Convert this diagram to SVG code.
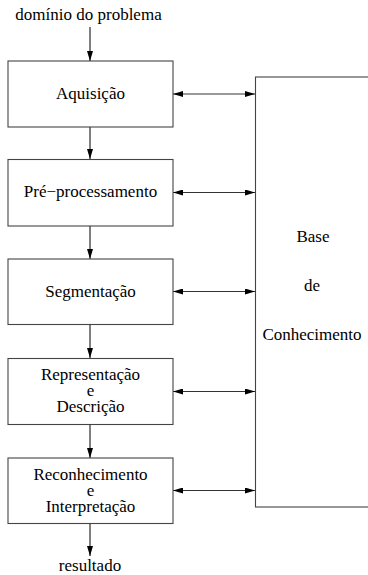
<svg xmlns="http://www.w3.org/2000/svg" width="368" height="575" viewBox="0 0 368 575">
<style>
.box{fill:#fff;stroke:#444;stroke-width:1.1}
text{font-family:'Liberation Serif','Times New Roman',serif;font-size:17px;fill:#000;text-anchor:middle}
.con{stroke:#000;stroke-width:1;fill:none}
.h{stroke:#333;stroke-width:1;fill:none}
</style>
<defs>
<marker id="ah" viewBox="0 0 10 6" refX="10" refY="3" markerWidth="10" markerHeight="6" markerUnits="userSpaceOnUse" orient="auto-start-reverse">
<path d="M0,0 L10,3 L0,6 Z" fill="#000"/>
</marker>
</defs>
<rect width="368" height="575" fill="#fff"/>
<g id="connectors">
<line class="con" x1="90" y1="27" x2="90" y2="61" marker-end="url(#ah)"/>
<line class="con" x1="90" y1="127" x2="90" y2="159" marker-end="url(#ah)"/>
<line class="con" x1="90" y1="226" x2="90" y2="259" marker-end="url(#ah)"/>
<line class="con" x1="90" y1="324" x2="90" y2="358" marker-end="url(#ah)"/>
<line class="con" x1="90" y1="424" x2="90" y2="458" marker-end="url(#ah)"/>
<line class="con" x1="90" y1="523" x2="90" y2="556" marker-end="url(#ah)"/>
<line class="h" x1="173" y1="94" x2="255" y2="94" marker-start="url(#ah)" marker-end="url(#ah)"/>
<line class="h" x1="173" y1="192.5" x2="255" y2="192.5" marker-start="url(#ah)" marker-end="url(#ah)"/>
<line class="h" x1="173" y1="291.5" x2="255" y2="291.5" marker-start="url(#ah)" marker-end="url(#ah)"/>
<line class="h" x1="173" y1="391.5" x2="255" y2="391.5" marker-start="url(#ah)" marker-end="url(#ah)"/>
<line class="h" x1="173" y1="490.5" x2="255" y2="490.5" marker-start="url(#ah)" marker-end="url(#ah)"/>
</g>
<g id="input">
<text x="88.5" y="20">domínio do problema</text>
</g>
<g id="aquisicao">
<rect class="box" x="8" y="61" width="165" height="66"/>
<text x="90.5" y="99">Aquisição</text>
</g>
<g id="preprocessamento">
<rect class="box" x="8" y="159.5" width="165" height="66.5"/>
<text x="90.5" y="197">Pré−processamento</text>
</g>
<g id="segmentacao">
<rect class="box" x="8" y="259" width="165" height="65.5"/>
<text x="90.5" y="297">Segmentação</text>
</g>
<g id="representacao">
<rect class="box" x="8" y="358.5" width="165" height="66"/>
<text x="90.5" y="380">Representação</text>
<text x="90.5" y="396">e</text>
<text x="90.5" y="412">Descrição</text>
</g>
<g id="reconhecimento">
<rect class="box" x="8" y="458" width="165" height="65.5"/>
<text x="90.5" y="479.5">Reconhecimento</text>
<text x="90.5" y="495.5">e</text>
<text x="90.5" y="511.5">Interpretação</text>
</g>
<g id="base">
<rect class="box" x="255.5" y="77" width="120" height="430"/>
<text x="313" y="241.5">Base</text>
<text x="312" y="291">de</text>
<text x="312" y="340">Conhecimento</text>
</g>
<g id="output">
<text x="90" y="571">resultado</text>
</g>
</svg>
